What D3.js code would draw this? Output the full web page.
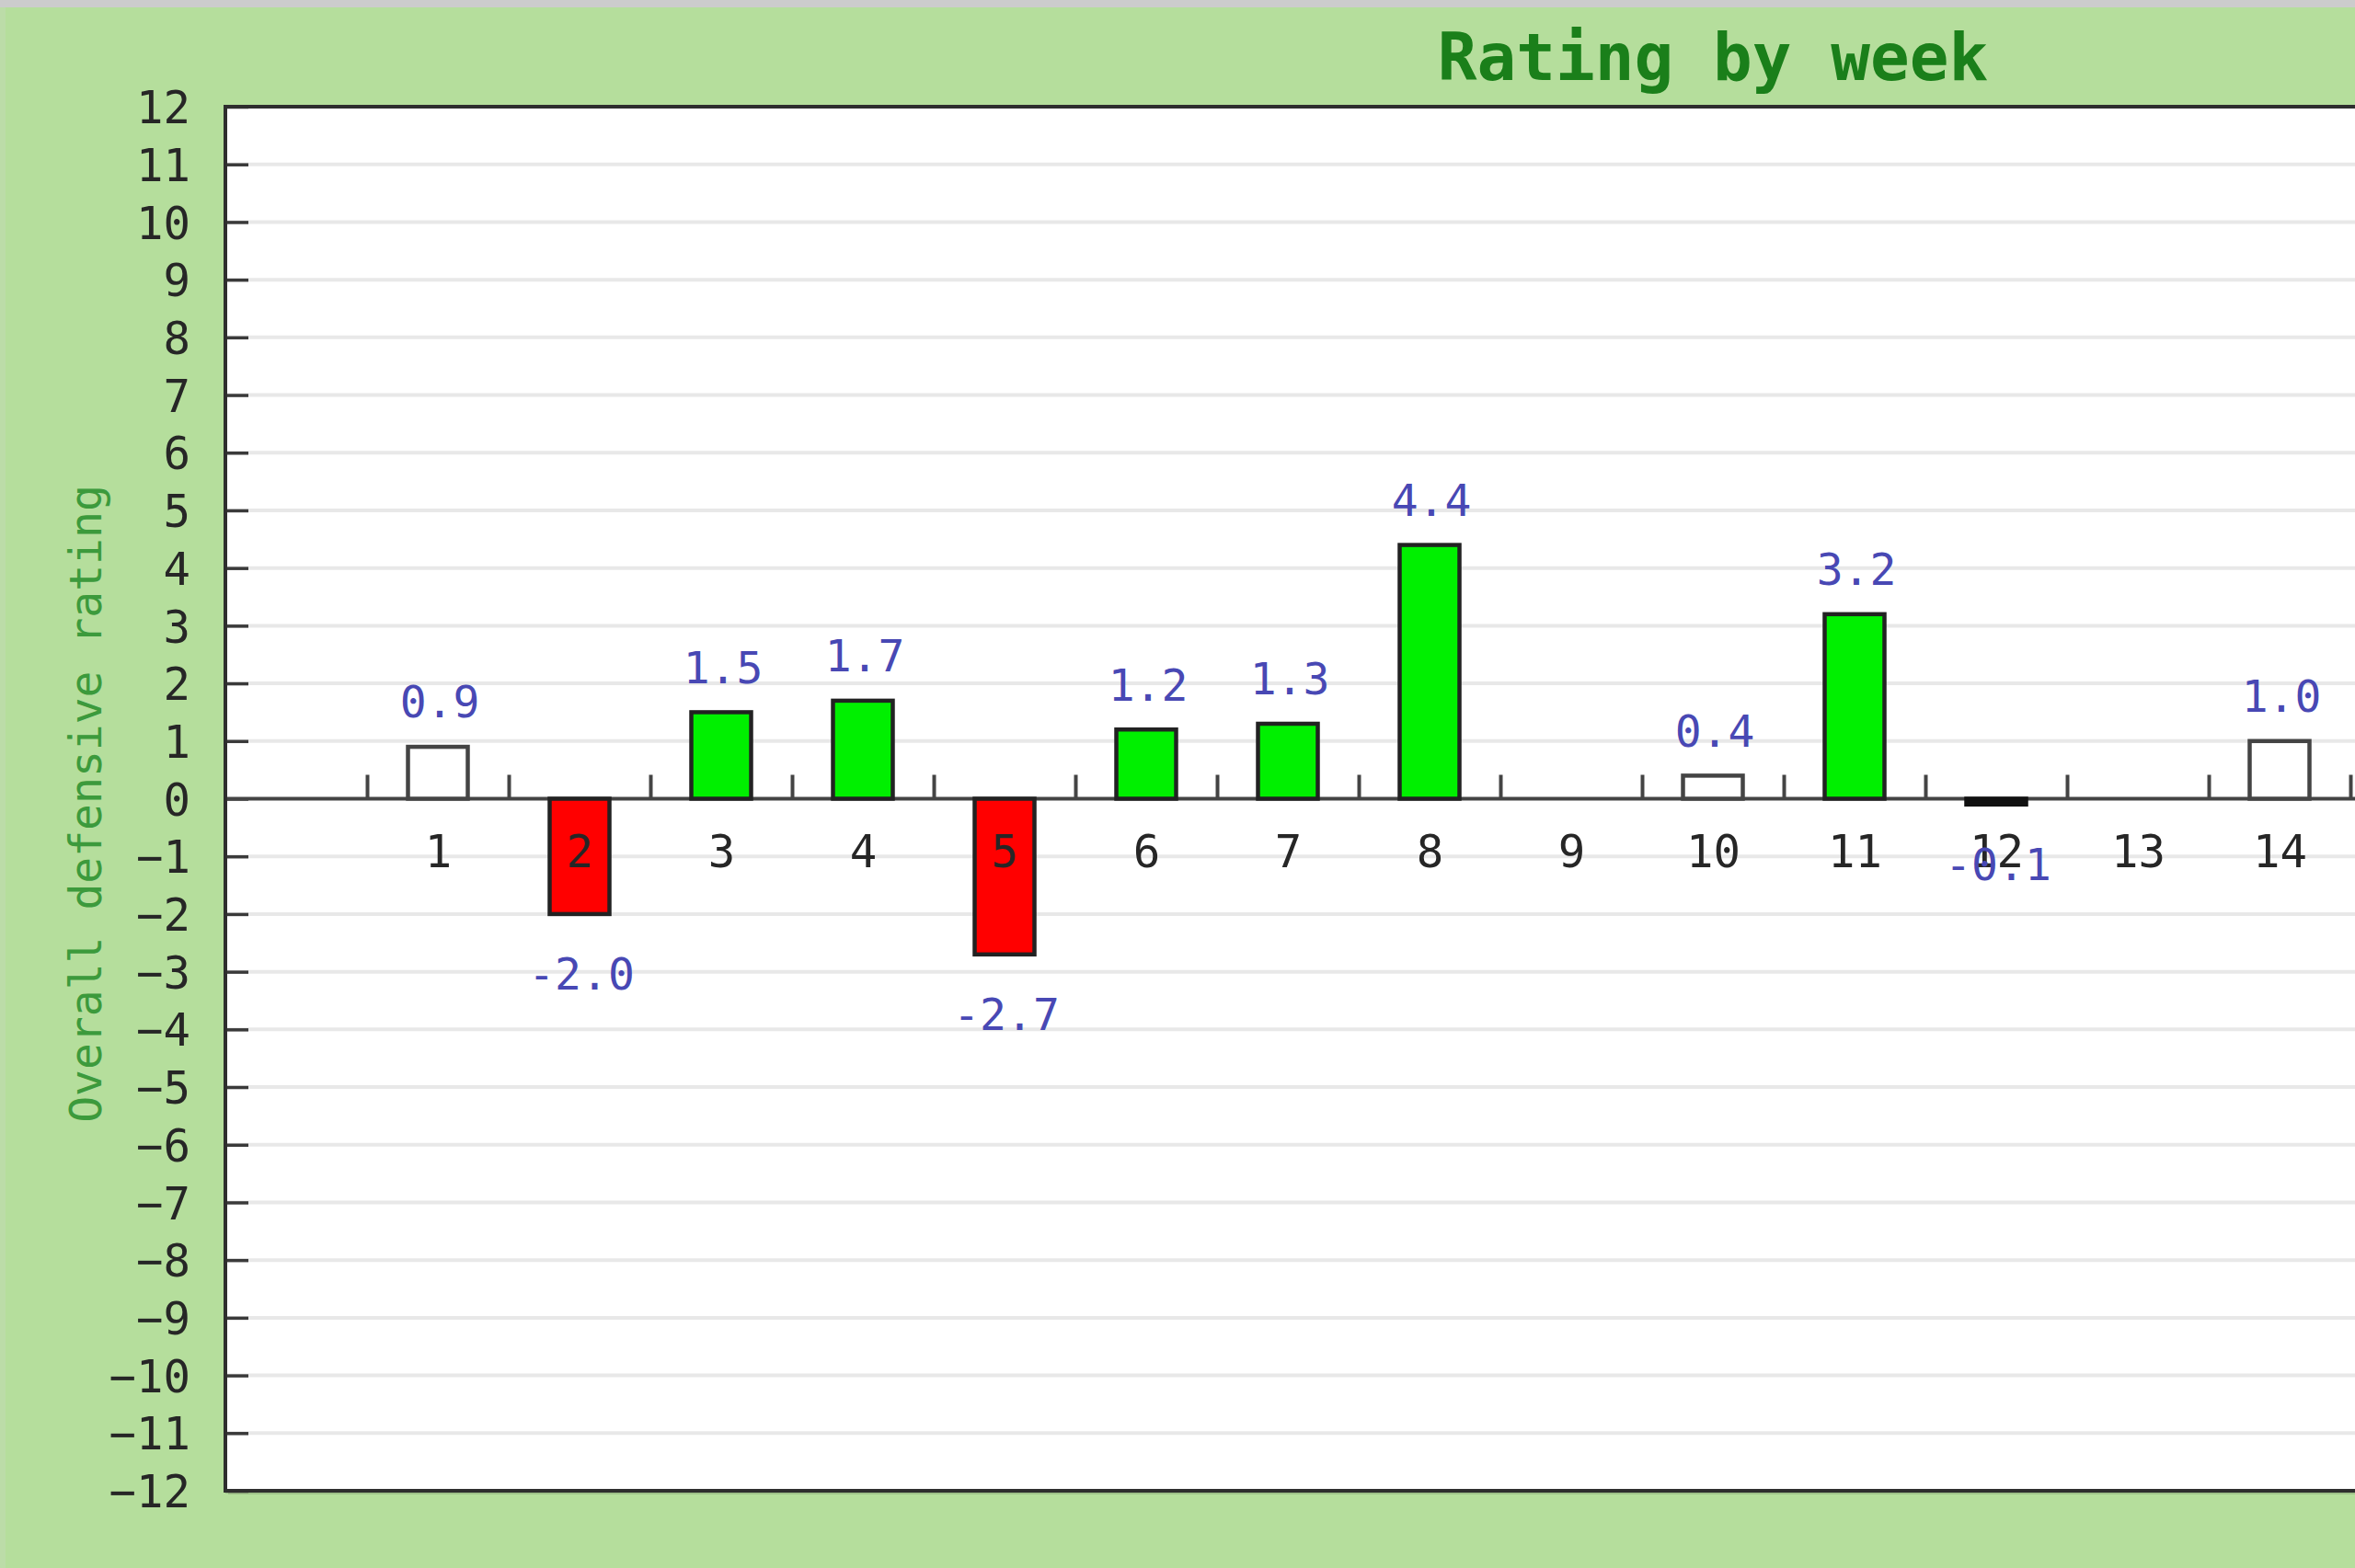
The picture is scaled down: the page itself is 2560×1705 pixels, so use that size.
<!DOCTYPE html>
<html>
<head>
<meta charset="utf-8">
<script src="https://cdn.jsdelivr.net/npm/d3@7/dist/d3.min.js"></script>
<style>
  html, body { margin: 0; padding: 0; overflow: hidden; background: #b5de9c; }
  svg { display: block; }
</style>
</head>
<body>
<script>
// ---- data ----
const weeks  = [1, 2, 3, 4, 5, 6, 7, 8, 9, 10, 11, 12, 13, 14];
const values = [0.9, -2.0, 1.5, 1.7, -2.7, 1.2, 1.3, 4.4, null, 0.4, 3.2, -0.1, null, 1.0];
const yTicks = d3.range(-12, 13, 1);
const title = "Rating by week";
const yTitle = "Overall defensive rating";

// ---- layout ----
const W = 2560, H = 1705;
const plotLeft = 245, plotTop = 116, plotBottom = 1621;
const bandCount = 21; // slots -0.5 .. 20.5 (chart continues past the right edge)
const bandW = 154;
const plotRight = plotLeft + bandCount * bandW;

const svg = d3.select("body").append("svg").attr("width", W).attr("height", H);

// background
svg.append("rect").attr("x", 0).attr("y", 0).attr("width", W).attr("height", H).attr("fill", "#b5de9c");
svg.append("rect").attr("x", 0).attr("y", 0).attr("width", W).attr("height", 8).attr("fill", "#cccccc");
svg.append("rect").attr("x", 0).attr("y", 8).attr("width", 6).attr("height", H - 8).attr("fill", "#bcdca8");

const x = d3.scaleLinear().domain([-0.5, bandCount - 0.5]).range([plotLeft, plotRight]);
const y = d3.scaleLinear().domain([-12, 12]).range([plotBottom, plotTop]);

// plot shadow + area
svg.append("rect")
  .attr("x", plotLeft + 3).attr("y", plotTop + 4)
  .attr("width", plotRight - plotLeft).attr("height", plotBottom - plotTop)
  .attr("fill", "#8fae7c").attr("opacity", 0.6);
svg.append("rect")
  .attr("x", plotLeft).attr("y", plotTop)
  .attr("width", plotRight - plotLeft).attr("height", plotBottom - plotTop)
  .attr("fill", "#ffffff");

// grid lines
svg.append("g").selectAll("line")
  .data(yTicks.filter(v => v !== 0 && Math.abs(v) !== 12))
  .join("line")
  .attr("x1", plotLeft).attr("x2", plotRight)
  .attr("y1", d => y(d)).attr("y2", d => y(d))
  .attr("stroke", "#e8e8e8").attr("stroke-width", 4);

// y axis
const yAxis = svg.append("g")
  .attr("transform", `translate(${plotLeft},0)`)
  .call(d3.axisLeft(y).tickValues(yTicks).tickFormat(d3.format("d")).tickSize(-25).tickPadding(38));
yAxis.select(".domain").remove();
yAxis.selectAll(".tick line").attr("stroke", "#3a3a3a").attr("stroke-width", 3.5);
yAxis.selectAll(".tick text")
  .attr("font-family", "'DejaVu Sans Mono', monospace")
  .attr("font-size", 49).attr("fill", "#262626")
  .attr("dy", "0.36em");

// zero line
svg.append("line")
  .attr("x1", plotLeft).attr("x2", plotRight)
  .attr("y1", y(0)).attr("y2", y(0))
  .attr("stroke", "#444444").attr("stroke-width", 4);

// x boundary ticks
const boundaries = d3.range(0.5, bandCount - 1, 1);
const xTickAxis = svg.append("g")
  .attr("transform", `translate(0,${y(0)})`)
  .call(d3.axisTop(x).tickValues(boundaries).tickFormat("").tickSize(26));
xTickAxis.select(".domain").remove();
xTickAxis.selectAll(".tick line").attr("stroke", "#444444").attr("stroke-width", 4);

// bars
const data = weeks.map((w, i) => ({ week: w, value: values[i] })).filter(d => d.value !== null);
const barW = 65;
const fillFor = v => v > 1 ? "#00f000" : (v < -1 ? "#ff0000" : (Math.abs(v) < 0.2 ? "#111111" : "#ffffff"));

svg.append("g").selectAll("rect")
  .data(data)
  .join("rect")
  .attr("x", d => x(d.week) - barW / 2)
  .attr("y", d => y(Math.max(0, d.value)))
  .attr("width", barW)
  .attr("height", d => Math.abs(y(d.value) - y(0)))
  .attr("fill", d => fillFor(d.value))
  .attr("stroke", d => Math.abs(d.value) < 0.2 ? "#111111" : (Math.abs(d.value) <= 1 ? "#444444" : "#222222"))
  .attr("stroke-width", 4.5);

// x labels (drawn over bars)
const xAxis = svg.append("g")
  .attr("transform", `translate(0,${y(0)})`)
  .call(d3.axisBottom(x).tickValues(weeks).tickFormat(d3.format("d")).tickSize(0).tickPadding(40));
xAxis.select(".domain").remove();
xAxis.selectAll(".tick text")
  .attr("font-family", "'DejaVu Sans Mono', monospace")
  .attr("font-size", 49).attr("fill", "#262626");

// value labels
svg.append("g").selectAll("text")
  .data(data)
  .join("text")
  .attr("x", d => x(d.week) + 2)
  .attr("y", d => d.value >= 0 ? y(d.value) - 49 : y(d.value) + 65)
  .attr("dy", "0.36em")
  .attr("text-anchor", "middle")
  .attr("font-family", "'DejaVu Sans Mono', monospace")
  .attr("font-size", 48)
  .attr("fill", "#4848b4")
  .text(d => d3.format(".1f")(d.value).replace("−", "-"));

// plot border
svg.append("rect")
  .attr("x", plotLeft).attr("y", plotTop)
  .attr("width", plotRight - plotLeft).attr("height", plotBottom - plotTop)
  .attr("fill", "none").attr("stroke", "#2e2e2e").attr("stroke-width", 4);

// title
svg.append("text")
  .attr("x", (plotLeft + plotRight) / 2).attr("y", 87)
  .attr("text-anchor", "middle")
  .attr("font-family", "'DejaVu Sans Mono', monospace")
  .attr("font-weight", "bold")
  .attr("font-size", 71)
  .attr("fill", "#1a7f1a")
  .text(title);

// y title
svg.append("text")
  .attr("transform", `translate(93,874) rotate(-90)`)
  .attr("text-anchor", "middle")
  .attr("dy", "0.36em")
  .attr("font-family", "'DejaVu Sans Mono', monospace")
  .attr("font-size", 48)
  .attr("fill", "#3c9a3c")
  .text(yTitle);
</script>
</body>
</html>
